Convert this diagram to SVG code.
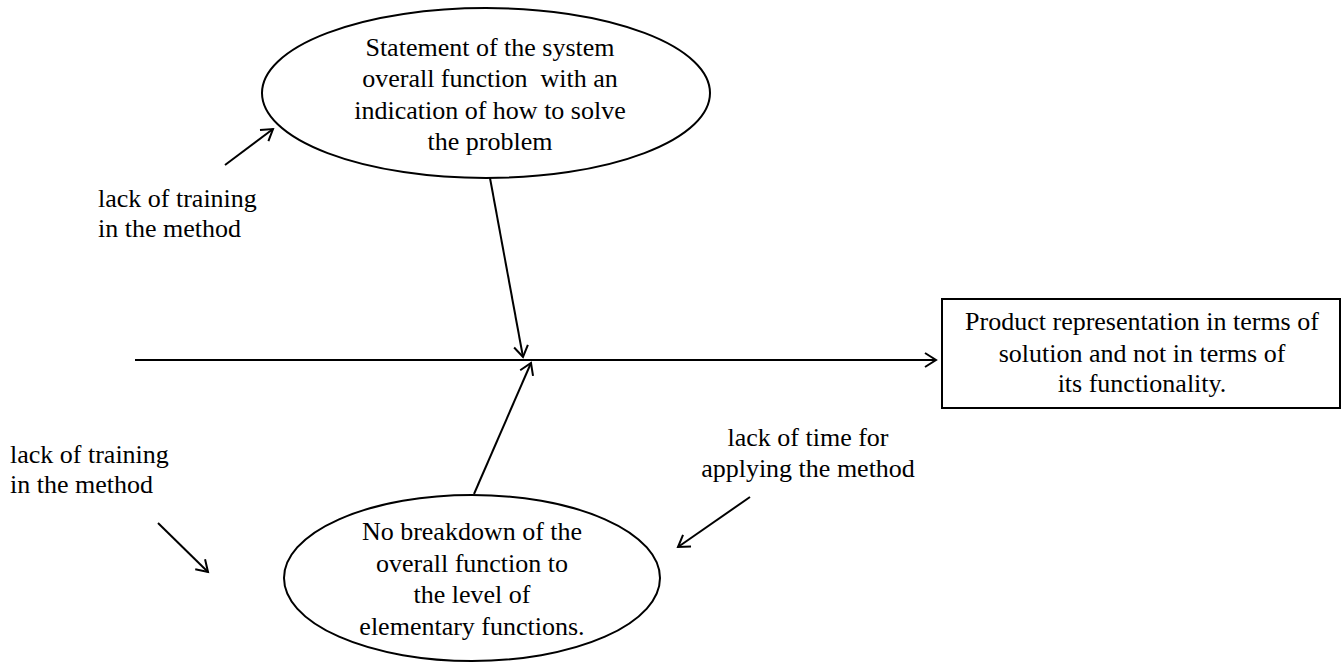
<svg xmlns="http://www.w3.org/2000/svg" width="1343" height="666" viewBox="0 0 1343 666">
<style>
text{font-family:"Liberation Serif","Times New Roman",serif;font-size:26px;fill:#000;white-space:pre}
.c{text-anchor:middle}
.s{fill:none;stroke:#000;stroke-width:2}
</style>
<defs>
<marker id="a" markerWidth="16" markerHeight="16" refX="13" refY="8" orient="auto" markerUnits="userSpaceOnUse">
<path d="M2,1 L13,8 L2,15" fill="none" stroke="#000" stroke-width="2"/>
</marker>
</defs>
<rect width="1343" height="666" fill="#fff"/>
<g id="connectors">
<line class="s" x1="135" y1="360" x2="936" y2="360" marker-end="url(#a)"/>
<line class="s" x1="490" y1="178" x2="523" y2="357" marker-end="url(#a)"/>
<line class="s" x1="474" y1="494" x2="531" y2="363" marker-end="url(#a)"/>
<line class="s" x1="225" y1="165" x2="273" y2="129" marker-end="url(#a)"/>
<line class="s" x1="158" y1="523" x2="208" y2="572" marker-end="url(#a)"/>
<line class="s" x1="750" y1="497" x2="678" y2="547" marker-end="url(#a)"/>
</g>
<g id="top-node">
<ellipse class="s" cx="486" cy="93" rx="224" ry="85"/>
<text class="c" x="490" y="56">Statement of the system</text>
<text class="c" x="490" y="87" xml:space="preserve">overall function  with an</text>
<text class="c" x="490" y="119">indication of how to solve</text>
<text class="c" x="490" y="150">the problem</text>
</g>
<g id="bottom-node">
<ellipse class="s" cx="472" cy="578" rx="188" ry="83"/>
<text class="c" x="472" y="540">No breakdown of the</text>
<text class="c" x="472" y="572">overall function to</text>
<text class="c" x="472" y="603">the level of</text>
<text class="c" x="472" y="635">elementary functions.</text>
</g>
<g id="effect">
<rect class="s" x="942" y="299" width="398" height="109"/>
<text class="c" x="1142" y="330">Product representation in terms of</text>
<text class="c" x="1142" y="362">solution and not in terms of</text>
<text class="c" x="1142" y="392">its functionality.</text>
</g>
<g id="label-top-left">
<text x="98" y="207">lack of training</text>
<text x="98" y="237">in the method</text>
</g>
<g id="label-bottom-left">
<text x="10" y="463">lack of training</text>
<text x="10" y="493">in the method</text>
</g>
<g id="label-right">
<text class="c" x="808" y="446">lack of time for</text>
<text class="c" x="808" y="477">applying the method</text>
</g>
</svg>
